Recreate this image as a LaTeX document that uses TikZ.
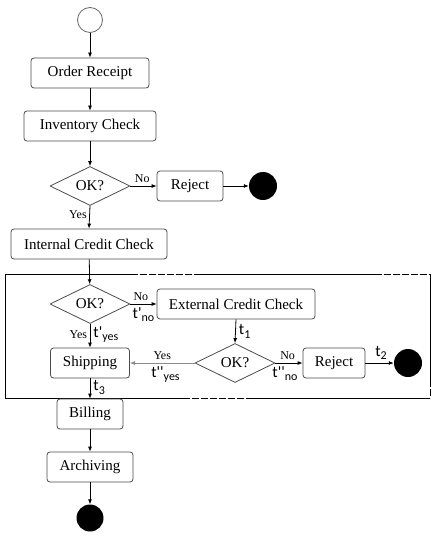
\documentclass[tikz,border=0pt]{standalone}
\usepackage{fontspec}
\setmainfont{Liberation Serif}
\newfontfamily\lblfont[Ligatures=TeXOff]{Carlito}
\usetikzlibrary{shapes.geometric,arrows.meta}
\newcommand\tsub[2]{t#1\raisebox{-0.45ex}{\fontsize{12}{12}\selectfont #2}}
\begin{document}
\begin{tikzpicture}[x=1pt,y=-1pt,
 box/.style={draw=black!70, rounded corners=3pt, minimum height=30pt, inner sep=0pt, font=\fontsize{15}{15}\selectfont, line width=0.8pt, fill=white},
 dec/.style={diamond, aspect=2, draw=black!70, minimum width=80pt, minimum height=39pt, inner sep=0pt, font=\fontsize{15}{15}\selectfont, line width=0.8pt, fill=white},
 fin/.style={circle, fill=black, minimum size=28pt, inner sep=0pt},
 initst/.style={circle, draw=black!60, fill=white, minimum size=25pt, inner sep=0pt, line width=0.8pt},
 arr/.style={-{Latex[length=5pt,width=4pt]}, line width=0.8pt},
 yn/.style={font=\fontsize{12}{12}\selectfont, inner sep=2.5pt},
 tl/.style={font=\lblfont\fontsize{16}{16}\selectfont, inner sep=3pt},
 frame/.style={line width=1pt},
 framedash/.style={line width=1pt, dash pattern=on 7pt off 2pt}]
\useasboundingbox (0,0) rectangle (438,540);

% frame
\draw[frame] (5,274) -- (131,274);
\draw[framedash] (131,274) -- (195,274);
\draw[frame] (195,274) -- (375,274);
\draw[framedash] (375,274) -- (430,274);
\draw[frame] (430,274) -- (430,380);
\draw[framedash] (430,380) -- (430,398);
\draw[frame] (5,274) -- (5,398) -- (183,398);
\draw[framedash] (183,398) -- (247,398);
\draw[frame] (247,398) -- (430,398);

% nodes
\node[initst] (start) at (90,20) {};
\node[box, minimum width=118pt] (order) at (90,73) {Order Receipt};
\node[box, minimum width=132pt] (inv) at (90,126) {Inventory Check};
\node[dec] (d1) at (90,186) {OK?};
\node[box, minimum width=66pt] (rej1) at (190,186) {Reject};
\node[fin] (end1) at (263,186) {};
\node[box, minimum width=156pt] (icc) at (89,244) {Internal Credit Check};
\node[dec] (d2) at (90,304) {OK?};
\node[box, minimum width=158pt] (ecc) at (236,304) {External Credit Check};
\node[dec] (d3) at (235,363) {OK?};
\node[box, minimum width=62pt] (rej2) at (334,363) {Reject};
\node[fin] (end2) at (408,363) {};
\node[box, minimum width=79pt] (ship) at (90,363) {Shipping};
\node[box, minimum width=66pt] (bill) at (90,414) {Billing};
\node[box, minimum width=86pt] (arch) at (90,467) {Archiving};
\node[fin, minimum size=27pt] (end3) at (90,518) {};

% connectors
\draw[arr] (start) -- (order);
\draw[arr] (order) -- (inv);
\draw[arr] (inv) -- (d1);
\draw[arr] (d1.east) -- node[yn, above, pos=0.45] {No} (rej1.west);
\draw[arr] (rej1) -- (end1);
\draw[arr] (d1.south) -- node[yn, left, pos=0.4] {Yes} (icc.north);
\draw[arr] (icc) -- (d2);
\draw[arr] (d2.east) -- node[yn, above, pos=0.4] {No} node[tl, below, pos=0.5] {\tsub{'}{no}} (ecc.west);
\draw[arr] (d2.south) -- node[yn, left, pos=0.45] {Yes} node[tl, right, pos=0.45] {\tsub{'}{yes}} (ship.north);
\draw[arr] (ecc.south) -- node[tl, right, pos=0.5] {\tsub{}{1}} (d3.north);
\draw[arr, draw=black!45, fill=black!45] (d3.west) -- node[yn, above, pos=0.5] {Yes} node[tl, below, pos=0.45] {\tsub{''}{yes}} (ship.east);
\draw[arr] (d3.east) -- node[yn, above, pos=0.45] {No} node[tl, below, pos=0.35] {\tsub{''}{no}} (rej2.west);
\draw[arr] (rej2) -- node[tl, above, pos=0.55] {\tsub{}{2}} (end2);
\draw[arr] (ship) -- node[tl, right, pos=0.45] {\tsub{}{3}} (bill);
\draw[arr] (bill) -- (arch);
\draw[arr] (arch) -- (end3);
\end{tikzpicture}
\end{document}
